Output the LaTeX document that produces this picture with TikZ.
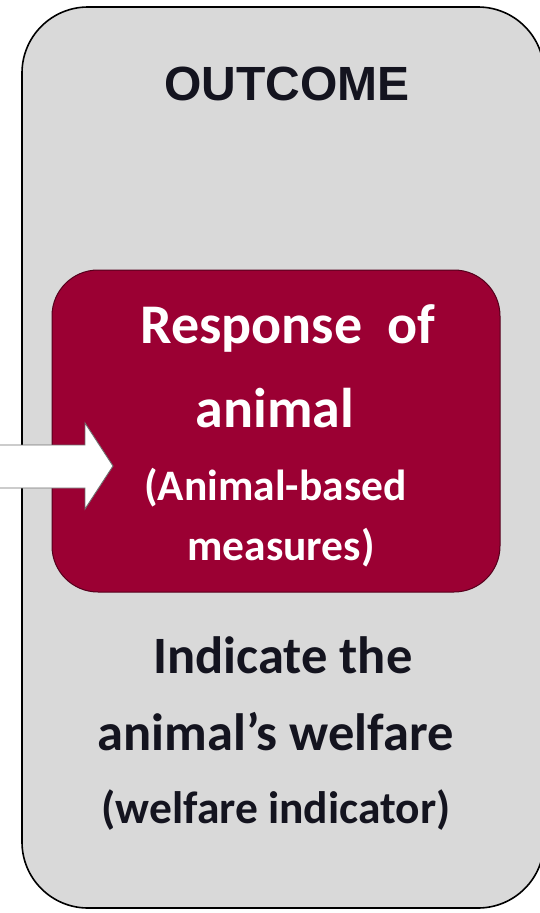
\documentclass[tikz,border=0pt]{standalone}
\usepackage{fontspec}
\setmainfont{Carlito}
\newfontfamily\headfont{Liberation Sans}
\usepackage{tikz}
\usetikzlibrary{positioning}
\definecolor{panel}{HTML}{D9D9D9}
\definecolor{wine}{HTML}{9B0033}
\definecolor{ink}{HTML}{14141F}
\definecolor{edge}{HTML}{6F6F6F}
\tikzset{
  outerbox/.style={rectangle, rounded corners=66pt, draw=black, line width=1.6pt,
                   fill=panel, inner sep=0pt},
  innerbox/.style={rectangle, rounded corners=46pt, draw=wine!55!black,
                   line width=1pt, fill=wine, inner sep=0pt},
  headline/.style={anchor=base, inner sep=0pt, text=ink,
                   font=\headfont\fontsize{48}{56}\selectfont\bfseries},
  bigwhite/.style={anchor=base, inner sep=0pt, text=white,
                   font=\fontsize{56}{64}\selectfont\bfseries},
  smallwhite/.style={anchor=base, inner sep=0pt, text=white,
                     font=\fontsize{43.5}{50}\selectfont\bfseries},
  bigink/.style={anchor=base, inner sep=0pt, text=ink,
                 font=\fontsize{52.5}{60}\selectfont\bfseries},
  smallink/.style={anchor=base, inner sep=0pt, text=ink,
                   font=\fontsize{45.5}{52}\selectfont\bfseries},
  blockarrow/.style={fill=white, draw=edge, line width=0.9pt, line join=miter},
}

\begin{document}
\begin{tikzpicture}[x=1pt, y=-1pt]
  \useasboundingbox (0,0) rectangle (539,913);

  % ---- outcome panel ----
  \node[outerbox, minimum width=522pt, minimum height=901pt] (panel) at (283,457.5) {};
  \node[headline] (title) at (287,100) {OUTCOME};

  % ---- response box ----
  \node[innerbox, minimum width=448pt, minimum height=322pt] (resp) at (276,431) {};
  \node[bigwhite] (resp1) at (288,343) {Response\ \ of};
  \node[bigwhite] (resp2) at (275,427) {animal};
  \node[smallwhite] (based1) at (275.5,500) {(Animal-based};
  \node[smallwhite] (based2) at (281,560) {measures)};

  % ---- what it indicates ----
  \node[bigink] (ind1) at (283,673) {Indicate the};
  \node[bigink] (ind2) at (275.5,750) {animal’s welfare};
  \node[smallink] (ind3) at (276,823) {(welfare indicator)};

  % incoming arrow
  \draw[blockarrow] (-3,445) -- (85,445) -- (85,423) -- (113,466)
    -- (85,509) -- (85,488) -- (-3,488) -- cycle;
\end{tikzpicture}
\end{document}
